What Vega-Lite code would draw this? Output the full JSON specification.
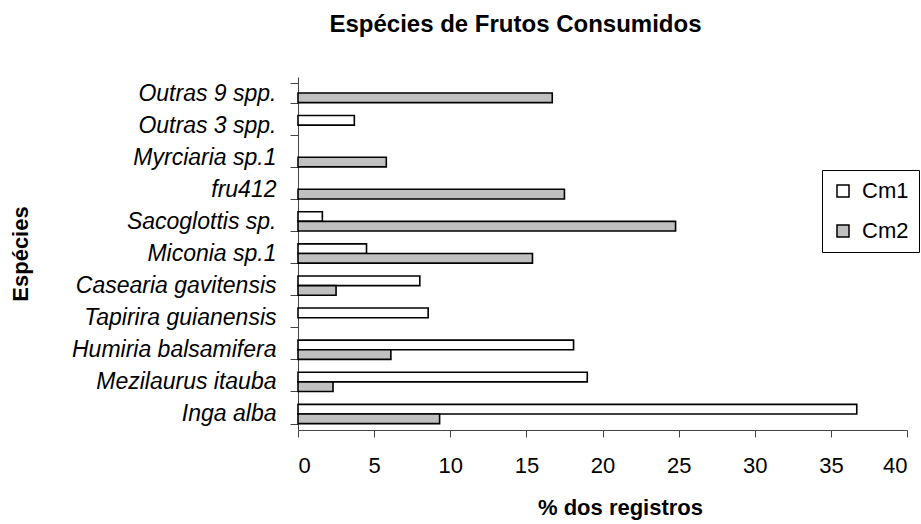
{
  "$schema": "https://vega.github.io/schema/vega-lite/v6.json",
  "autosize": {"type": "none"},
  "padding": {"left": 298, "top": 77, "right": 14, "bottom": 94},
  "width": 609,
  "height": 353,
  "background": "white",
  "title": {
    "text": "Espécies de Frutos Consumidos",
    "font": "Liberation Sans",
    "fontSize": 24,
    "fontWeight": "bold",
    "color": "black",
    "anchor": "middle",
    "dx": -87,
    "offset": 29
  },
  "data": {
    "values": [
      {"especie": "Outras 9 spp.", "serie": "Cm2", "valor": 16.7},
      {"especie": "Outras 3 spp.", "serie": "Cm1", "valor": 3.7},
      {"especie": "Myrciaria sp.1", "serie": "Cm2", "valor": 5.8},
      {"especie": "fru412", "serie": "Cm2", "valor": 17.5},
      {"especie": "Sacoglottis sp.", "serie": "Cm1", "valor": 1.6},
      {"especie": "Sacoglottis sp.", "serie": "Cm2", "valor": 24.8},
      {"especie": "Miconia sp.1", "serie": "Cm1", "valor": 4.5},
      {"especie": "Miconia sp.1", "serie": "Cm2", "valor": 15.4},
      {"especie": "Casearia gavitensis", "serie": "Cm1", "valor": 8.0},
      {"especie": "Casearia gavitensis", "serie": "Cm2", "valor": 2.5},
      {"especie": "Tapirira guianensis", "serie": "Cm1", "valor": 8.55},
      {"especie": "Humiria balsamifera", "serie": "Cm1", "valor": 18.1},
      {"especie": "Humiria balsamifera", "serie": "Cm2", "valor": 6.1},
      {"especie": "Mezilaurus itauba", "serie": "Cm1", "valor": 19.0},
      {"especie": "Mezilaurus itauba", "serie": "Cm2", "valor": 2.3},
      {"especie": "Inga alba", "serie": "Cm1", "valor": 36.7},
      {"especie": "Inga alba", "serie": "Cm2", "valor": 9.3}
    ]
  },
  "mark": {"type": "bar", "stroke": "black", "strokeWidth": 1.6},
  "encoding": {
    "y": {
      "field": "especie",
      "type": "nominal",
      "sort": ["Outras 9 spp.", "Outras 3 spp.", "Myrciaria sp.1", "fru412", "Sacoglottis sp.", "Miconia sp.1", "Casearia gavitensis", "Tapirira guianensis", "Humiria balsamifera", "Mezilaurus itauba", "Inga alba"],
      "scale": {"paddingInner": 0.4, "paddingOuter": 0.2},
      "axis": {
        "title": "Espécies",
        "titleFont": "Liberation Sans",
        "titleFontSize": 22,
        "titleFontWeight": "bold",
        "titleColor": "black",
        "titlePadding": 66,
        "labelFont": "Liberation Sans",
        "labelFontSize": 23,
        "labelFontStyle": "italic",
        "labelColor": "black",
        "labelPadding": 14,
        "labelLimit": 400,
        "tickSize": 8,
        "tickColor": "#444",
        "domainColor": "#444",
        "tickBand": "extent",
        "grid": false
      }
    },
    "yOffset": {
      "field": "serie",
      "type": "nominal",
      "scale": {"domain": ["Cm1", "Cm2"], "paddingInner": 0, "paddingOuter": 0}
    },
    "x": {
      "field": "valor",
      "type": "quantitative",
      "scale": {"domain": [0, 40], "nice": false},
      "axis": {
        "title": "% dos registros",
        "titleFont": "Liberation Sans",
        "titleFontSize": 22,
        "titleFontWeight": "bold",
        "titleColor": "black",
        "titlePadding": 21,
        "titleX": 322,
        "values": [0, 5, 10, 15, 20, 25, 30, 35, 40],
        "labelFont": "Liberation Sans",
        "labelFontSize": 22,
        "labelColor": "black",
        "labelPadding": 18,
        "tickSize": 7,
        "tickColor": "#444",
        "domainColor": "#444",
        "grid": false
      }
    },
    "fill": {
      "field": "serie",
      "type": "nominal",
      "scale": {"domain": ["Cm1", "Cm2"], "range": ["#ffffff", "#c0c0c0"]},
      "legend": {
        "title": null,
        "orient": "none",
        "legendX": 524,
        "legendY": 93,
        "strokeColor": "black",
        "padding": 10,
        "symbolType": "square",
        "symbolSize": 144,
        "symbolStrokeColor": "black",
        "symbolStrokeWidth": 1.5,
        "labelFont": "Liberation Sans",
        "labelFontSize": 22,
        "labelColor": "black",
        "rowPadding": 18,
        "labelOffset": 8
      }
    }
  },
  "config": {"view": {"stroke": null}}
}
